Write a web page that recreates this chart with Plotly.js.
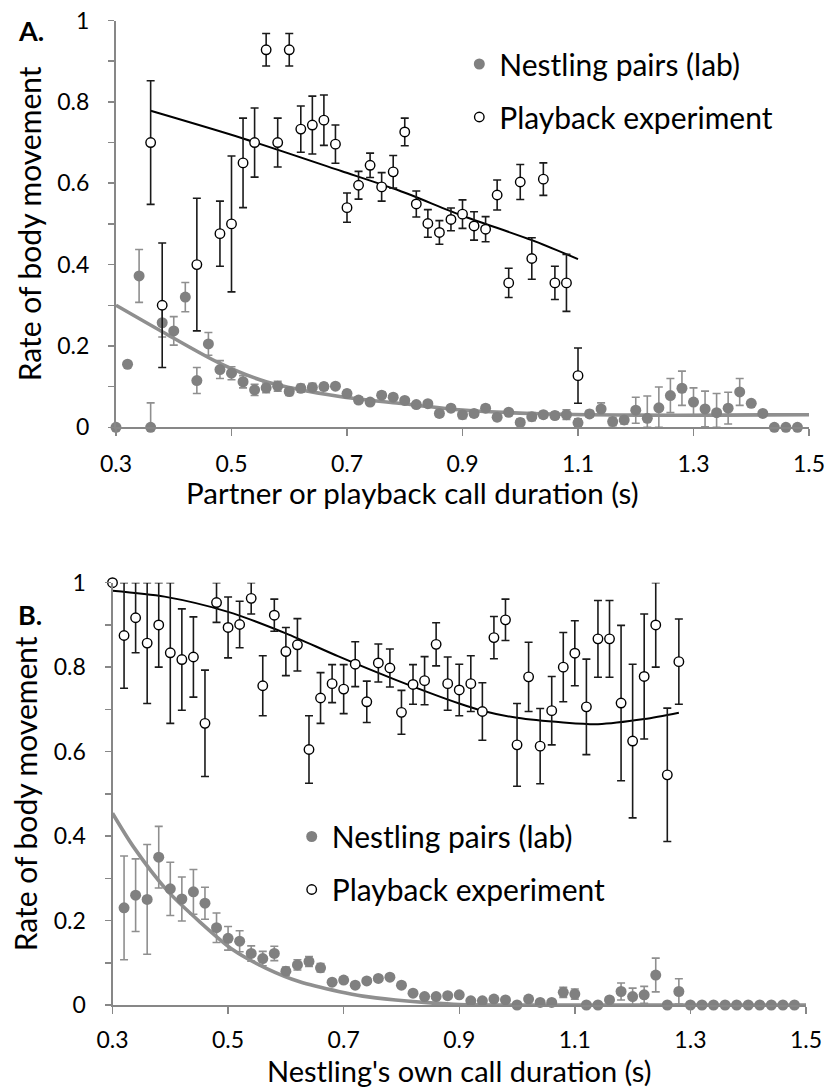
<!DOCTYPE html>
<html>
<head>
<meta charset="utf-8">
<script src="https://cdn.plot.ly/plotly-3.0.1.min.js"></script>
<style>html,body{margin:0;padding:0;background:#fff}#chart{width:827px;height:1088px}</style>
</head>
<body>
<div id="chart"></div>
<script>
// ---------- Panel A data ----------
const aLabX = [0.30,0.32,0.34,0.36,0.38,0.40,0.42,0.44,0.46,0.48,0.50,0.52,0.54,0.56,0.58,0.60,0.62,0.64,0.66,0.68,
  0.70,0.72,0.74,0.76,0.78,0.80,0.82,0.84,0.86,0.88,0.90,0.92,0.94,0.96,0.98,1.00,1.02,1.04,1.06,1.08,
  1.10,1.12,1.14,1.16,1.18,1.20,1.22,1.24,1.26,1.28,1.30,1.32,1.34,1.36,1.38,1.40,1.42,1.44,1.46,1.48];
const aLabY = [0,0.155,0.372,0,0.257,0.237,0.32,0.115,0.205,0.142,0.133,0.112,0.092,0.097,0.101,0.088,0.096,0.098,0.100,0.101,
  0.083,0.067,0.062,0.079,0.074,0.066,0.056,0.058,0.034,0.047,0.031,0.034,0.047,0.025,0.037,0.012,0.026,0.031,0.029,0.031,
  0.011,0.033,0.045,0.014,0.018,0.042,0.022,0.048,0.078,0.096,0.062,0.045,0.036,0.047,0.087,0.059,0.034,0,0,0];
const aLabErr = [0,0,0.065,0.06,0.035,0.035,0.036,0.032,0.028,0.022,0.016,0.015,0.014,0.012,0.012,0.010,0.010,0.010,0.008,0.006,
  0.008,0.008,0.006,0.008,0.008,0.006,0.006,0.006,0.008,0.008,0.010,0.008,0.008,0.008,0.006,0.008,0.010,0.008,0.008,0.012,
  0.010,0.008,0.015,0.010,0.010,0.032,0.055,0.051,0.042,0.042,0.035,0.044,0.047,0.039,0.033,0,0,0,0,0];

const aPbX = [0.36,0.38,0.44,0.48,0.50,0.52,0.54,0.56,0.58,0.60,0.62,0.64,0.66,0.68,0.70,0.72,0.74,0.76,0.78,0.80,
  0.82,0.84,0.86,0.88,0.90,0.92,0.94,0.96,0.98,1.00,1.02,1.04,1.06,1.08,1.10];
const aPbY = [0.70,0.30,0.40,0.476,0.50,0.65,0.70,0.928,0.70,0.928,0.733,0.743,0.755,0.696,0.54,0.595,0.644,0.591,0.628,0.726,
  0.549,0.501,0.479,0.511,0.524,0.495,0.487,0.571,0.355,0.603,0.415,0.61,0.355,0.355,0.127];
const aPbErr = [0.152,0.153,0.163,0.08,0.167,0.11,0.085,0.04,0.06,0.04,0.057,0.071,0.062,0.047,0.036,0.034,0.03,0.035,0.04,0.034,
  0.032,0.034,0.029,0.028,0.035,0.035,0.031,0.037,0.036,0.043,0.051,0.04,0.041,0.07,0.068];

// fitted trend lines
const aLabFitX = [0.30,0.38,0.48,0.56,0.69,0.79,0.90,1.02,1.20,1.35,1.50];
const aLabFitY = [0.300,0.235,0.157,0.112,0.075,0.059,0.0425,0.034,0.030,0.030,0.031];
const aPbFitX = [0.36,0.52,0.69,0.79,0.90,1.02,1.10];
const aPbFitY = [0.778,0.710,0.630,0.582,0.520,0.460,0.4135];

// ---------- Panel B data ----------
const bLabX = [0.32,0.34,0.36,0.38,0.40,0.42,0.44,0.46,0.48,0.50,0.52,0.54,0.56,0.58,0.60,0.62,0.64,0.66,0.68,
  0.70,0.72,0.74,0.76,0.78,0.80,0.82,0.84,0.86,0.88,0.90,0.92,0.94,0.96,0.98,1.00,1.02,1.04,1.06,1.08,
  1.10,1.12,1.14,1.16,1.18,1.20,1.22,1.24,1.26,1.28,1.30,1.32,1.34,1.36,1.38,1.40,1.42,1.44,1.46,1.48];
const bLabY = [0.23,0.26,0.25,0.35,0.275,0.251,0.268,0.241,0.183,0.158,0.151,0.122,0.11,0.122,0.08,0.095,0.103,0.088,0.054,
  0.059,0.047,0.057,0.063,0.066,0.047,0.028,0.02,0.02,0.022,0.024,0.01,0.01,0.014,0.012,0,0.014,0.006,0.006,0.03,
  0.026,0,0,0.012,0.032,0.02,0.024,0.071,0,0.032,0,0,0,0,0,0,0,0,0,0];
const bLabErr = [0.123,0.086,0.13,0.073,0.063,0.052,0.053,0.038,0.035,0.028,0.025,0.018,0.017,0.017,0.010,0.012,0.012,0.010,0.006,
  0.006,0.006,0.006,0.006,0.006,0.006,0.005,0.005,0.005,0.005,0.005,0.004,0.004,0.004,0.004,0,0.005,0.004,0.004,0.012,
  0.012,0,0,0.006,0.02,0.02,0.02,0.04,0,0.03,0,0,0,0,0,0,0,0,0,0];

const bPbX = [0.30,0.32,0.34,0.36,0.38,0.40,0.42,0.44,0.46,0.48,0.50,0.52,0.54,0.56,0.58,0.60,0.62,0.64,0.66,0.68,
  0.70,0.72,0.74,0.76,0.78,0.80,0.82,0.84,0.86,0.88,0.90,0.92,0.94,0.96,0.98,1.00,1.02,1.04,1.06,1.08,
  1.10,1.12,1.14,1.16,1.18,1.20,1.22,1.24,1.26,1.28];
const bPbY = [1.0,0.875,0.917,0.857,0.90,0.834,0.818,0.824,0.667,0.953,0.894,0.901,0.963,0.756,0.923,0.837,0.853,0.605,0.727,0.761,
  0.748,0.807,0.718,0.81,0.798,0.693,0.759,0.768,0.854,0.761,0.746,0.761,0.695,0.87,0.912,0.616,0.777,0.613,0.697,0.80,
  0.833,0.706,0.867,0.867,0.715,0.625,0.778,0.90,0.545,0.813];
const bPbErr = [0,0.125,0.083,0.143,0.10,0.167,0.12,0.095,0.126,0.047,0.072,0.055,0.037,0.071,0.038,0.057,0.062,0.08,0.06,0.045,
  0.058,0.053,0.049,0.045,0.045,0.052,0.047,0.057,0.051,0.063,0.061,0.066,0.068,0.05,0.049,0.098,0.082,0.089,0.081,0.082,
  0.077,0.113,0.091,0.091,0.184,0.182,0.148,0.10,0.158,0.101];

const bLabFitX = [0.30,0.336,0.394,0.451,0.509,0.566,0.624,0.693,0.733,0.79,0.85,0.90,1.00,1.25,1.50];
const bLabFitY = [0.454,0.375,0.272,0.197,0.130,0.087,0.055,0.0315,0.021,0.012,0.005,0.001,0,0,0];
const bPbFitX = [0.30,0.39,0.50,0.60,0.69,0.79,0.90,0.94,1.00,1.08,1.14,1.22,1.28];
const bPbFitY = [0.981,0.967,0.931,0.880,0.826,0.770,0.714,0.697,0.680,0.669,0.665,0.677,0.692];

// tick labels
const xTickVals = [0.3,0.5,0.7,0.9,1.1,1.3,1.5];
const xTickText = ['0.3','0.5','0.7','0.9','1.1','1.3','1.5'];
const yTickVals = [0,0.2,0.4,0.6,0.8,1];
const yTickText = ['0','0.2','0.4','0.6','0.8','1'];

// ---------- styling ----------
const FONT = 'Lato, "Open Sans", sans-serif';
const GREY = '#808080';
const GREY_ERR = '#8f8f8f';
const AXIS = '#878787';

function errs(y, e, hi){
  return {
    type:'data', symmetric:false,
    array: e.map((v,i)=>Math.min(v, hi - y[i])),
    arrayminus: e.map((v,i)=>Math.min(v, y[i])),
  };
}

function lab(x, y, e, xa, ya, lg, show){
  return {x, y, type:'scatter', mode:'markers', xaxis:xa, yaxis:ya, name:'Nestling pairs (lab)',
    legend:lg, legendgroup:lg+'lab', showlegend:show, cliponaxis:false,
    marker:{color:GREY, size:11, line:{width:0}},
    error_y:Object.assign(errs(y,e,1),{color:GREY_ERR, thickness:1.6, width:4}), hoverinfo:'x+y'};
}
function pb(x, y, e, xa, ya, lg, show){
  return {x, y, type:'scatter', mode:'markers', xaxis:xa, yaxis:ya, name:'Playback experiment',
    legend:lg, legendgroup:lg+'pb', showlegend:show, cliponaxis:false,
    marker:{color:'#ffffff', size:9.5, line:{color:'#000', width:1.4}},
    error_y:Object.assign(errs(y,e,1),{color:'#1a1a1a', thickness:1.6, width:4}), hoverinfo:'x+y'};
}
function fit(x, y, xa, ya, color, w){
  return {x, y, type:'scatter', mode:'lines', xaxis:xa, yaxis:ya, showlegend:false, hoverinfo:'skip',
    line:{color, width:w, shape:'spline', smoothing:0.8}};
}

const data = [
  fit(aLabFitX, aLabFitY, 'x', 'y', GREY_ERR, 3.6),
  fit(aPbFitX, aPbFitY, 'x', 'y', '#000', 2),
  lab(aLabX, aLabY, aLabErr, 'x', 'y', 'legend', true),
  pb(aPbX, aPbY, aPbErr, 'x', 'y', 'legend', true),
  fit(bLabFitX, bLabFitY, 'x2', 'y2', GREY_ERR, 3.6),
  fit(bPbFitX, bPbFitY, 'x2', 'y2', '#000', 2),
  lab(bLabX, bLabY, bLabErr, 'x2', 'y2', 'legend2', true),
  pb(bPbX, bPbY, bPbErr, 'x2', 'y2', 'legend2', true),
];

// pixel layout (figure 827 x 1088)
const W = 827, H = 1088, ML = 112, MR = 18, MT = 20, MB = 83;
const PW = W - ML - MR, PH = H - MT - MB;
const px = v => (v - ML) / PW;
const py = v => 1 - (v - MT) / PH;

function xaxis(domain, title, standoffLbl){
  return {domain, range:[0.3,1.5], tickvals:xTickVals, ticktext:xTickText,
    showline:true, linecolor:AXIS, linewidth:2, ticks:'outside', ticklen:7, tickwidth:1.5, tickcolor:AXIS,
    showgrid:false, zeroline:false, ticklabelstandoff:standoffLbl,
    tickfont:{family:FONT, size:23, color:'#000'},
    title: title ? {text:title, font:{family:FONT, size:29, color:'#000'}, standoff:1} : undefined,
    fixedrange:true};
}
function yaxis(domain, anchor){
  return {domain, anchor, range:[0,1], tickvals:yTickVals, ticktext:yTickText,
    showline:true, linecolor:AXIS, linewidth:2, ticks:'outside', ticklen:6, tickwidth:1.5, tickcolor:AXIS,
    minor:{tickvals:[0.1,0.3,0.5,0.7,0.9], ticks:'outside', ticklen:6, tickwidth:1.5, tickcolor:AXIS, showgrid:false},
    showgrid:false, zeroline:false, ticklabelstandoff:14,
    tickfont:{family:FONT, size:23, color:'#000'},
    title:{text:'Rate of body movement', font:{family:FONT, size:30, color:'#000'}, standoff:7},
    fixedrange:true};
}

const legendBase = {xanchor:'left', yanchor:'top', xref:'paper', yref:'paper', bgcolor:'rgba(0,0,0,0)',
  borderwidth:0, font:{family:FONT, size:30, color:'#000'}, traceorder:'grouped', tracegroupgap:11, itemsizing:'trace'};

const layout = {
  width:W, height:H, margin:{l:ML, r:MR, t:MT, b:MB}, paper_bgcolor:'#fff', plot_bgcolor:'rgba(0,0,0,0)',
  showlegend:true,
  xaxis: Object.assign(xaxis([px(116), px(809)], null, 8), {anchor:'y'}),
  yaxis: yaxis([py(427.3), py(20.5)], 'x'),
  xaxis2: Object.assign(xaxis([px(112.5), px(806)], "Nestling's own call duration (s)", 6), {anchor:'y2'}),
  yaxis2: yaxis([py(1005), py(582.7)], 'x2'),
  legend: Object.assign({}, legendBase, {x:px(459.3), y:py(38)}),
  legend2: Object.assign({}, legendBase, {x:px(291.7), y:py(810.5)}),
  annotations:[
    {text:'Partner or playback call duration (s)', xref:'paper', yref:'paper', x:px(412.5), y:py(492),
      xanchor:'center', yanchor:'middle', showarrow:false, font:{family:FONT, size:29.5, color:'#000'}},
    {text:'<b>A.</b>', xref:'paper', yref:'paper', x:px(16), y:py(31), xanchor:'left', yanchor:'middle',
      showarrow:false, font:{family:FONT, size:27, color:'#000'}},
    {text:'<b>B.</b>', xref:'paper', yref:'paper', x:px(16), y:py(614), xanchor:'left', yanchor:'middle',
      showarrow:false, font:{family:FONT, size:27, color:'#000'}},
  ],
};

Plotly.newPlot('chart', data, layout, {staticPlot:true, displayModeBar:false});
</script>
</body>
</html>
